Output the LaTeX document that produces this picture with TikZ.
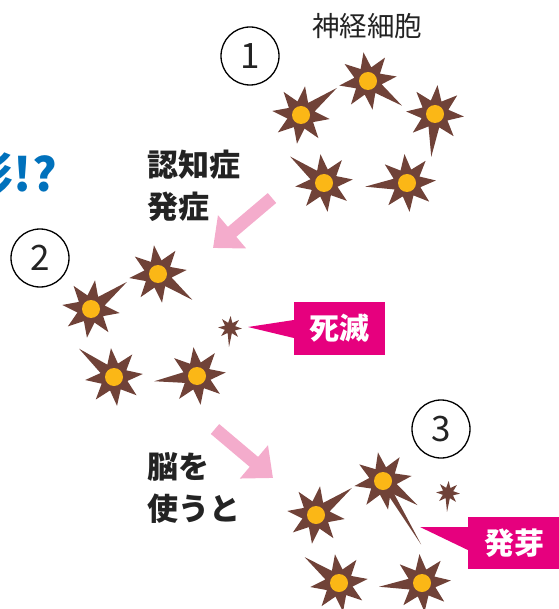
\documentclass[tikz,border=0pt]{standalone}
\usepackage{fontspec}
\setmainfont{Noto Sans CJK JP}
\usetikzlibrary{arrows.meta}
\definecolor{cellbrown}{RGB}{112,66,56}
\definecolor{nucleusyellow}{RGB}{251,183,22}
\definecolor{labelmagenta}{RGB}{230,0,126}
\definecolor{arrowpink}{RGB}{244,172,204}
\definecolor{titleblue}{RGB}{0,113,188}
\definecolor{textgray}{RGB}{35,35,35}

% neuron at (#1,#2): eight spikes, the one towards #3 grows to length #4
\newcommand{\neuron}[4]{%
  \fill[cellbrown, shift={(#1,#2)}] (#3:#4)
    \foreach \a in {45,90,...,315} { -- (#3+\a-22.5:14) -- (#3+\a:29) }
    -- (#3-22.5:14) -- cycle;
  \fill[nucleusyellow] (#1,#2) circle (9);
}
% shrunken cell without nucleus
\newcommand{\smallcell}[4]{%
  \fill[cellbrown, shift={(#1,#2)}] (#3:#4)
    \foreach \a in {45,90,...,315} { -- (#3+\a-22.5:5.5) -- (#3+\a:12) }
    -- (#3-22.5:5.5) -- cycle;
}

\tikzset{
  numcircle/.style={draw=black, circle, line width=1.3pt, minimum size=58pt,
    inner sep=0pt, font=\fontsize{35}{35}\selectfont, text=textgray},
  stepnote/.style={align=left, inner sep=0pt, text=textgray,
    font=\bfseries\fontsize{31}{42}\selectfont},
  tag/.style={fill=labelmagenta, text=white, inner sep=0pt,
    font=\bfseries\fontsize{30}{30}\selectfont},
  pinkarrow/.style={arrowpink, line width=13pt,
    -{Triangle[length=25pt, width=42pt]}}
}

\begin{document}
\begin{tikzpicture}[x=1pt, y=-1pt]
    \useasboundingbox (0,0) rectangle (558,609);

    % Heading, cut at the left edge
    \node[font=\bfseries\fontsize{46}{46}\selectfont, text=titleblue,
          anchor=east, inner sep=0pt] (title) at (57,175) {形!?};

    % Stage 1: healthy neurons
    \node[numcircle] (one) at (250,56) {1};
    \node[font=\fontsize{27.5}{27.5}\selectfont, text=textgray] (cells) at (367,26) {神経細胞};
    \neuron{301}{115}{-37}{45}
    \neuron{368}{81}{36}{42}
    \neuron{435}{114}{95}{43}
    \neuron{324}{183}{218}{43}
    \neuron{407}{183}{175}{42}

    % Onset
    \node[stepnote, anchor=west] (onset) at (147,186) {認知症\\発症};
    \draw[pinkarrow] (272,198) -- (213,248);

    % Stage 2: one cell dies
    \node[numcircle] (two) at (40,258) {2};
    \neuron{91}{309}{-37}{45}
    \neuron{158}{274}{37}{43}
    \neuron{114}{377}{219}{45}
    \neuron{197}{376}{173}{43}
    \smallcell{230}{328}{93}{19}
    \node[tag, minimum width=91pt, minimum height=53pt] (dead) at (339.5,328.5) {死滅};
    \coordinate (deadtip) at (248,327);
    \fill[labelmagenta] (deadtip) -- ([yshift=8.5pt]dead.west) -- ([yshift=-9.5pt]dead.west) -- cycle;

    % Using the brain
    \node[stepnote, anchor=west] (usage) at (147,488) {脳を\\使うと};
    \draw[pinkarrow] (215,429) -- (273,478);

    % Stage 3: a new sprout
    \node[numcircle] (three) at (441,429) {3};
    \neuron{383}{481}{35}{42}
    \fill[cellbrown, shift={(383,481)}] (45:13) -- (59:74) -- (72:13) -- cycle;
    \neuron{316}{515}{-37}{45}
    \neuron{339}{583}{217}{43}
    \neuron{422}{583}{175}{43}
    \smallcell{448}{493}{93}{19}
    \node[tag, minimum width=92pt, minimum height=52pt] (sprout) at (514,543) {発芽};
    \coordinate (sprouttip) at (420,527);
    \fill[labelmagenta] (sprouttip) -- ([yshift=16pt]sprout.west) -- ([yshift=-7pt]sprout.west) -- cycle;
\end{tikzpicture}
\end{document}
